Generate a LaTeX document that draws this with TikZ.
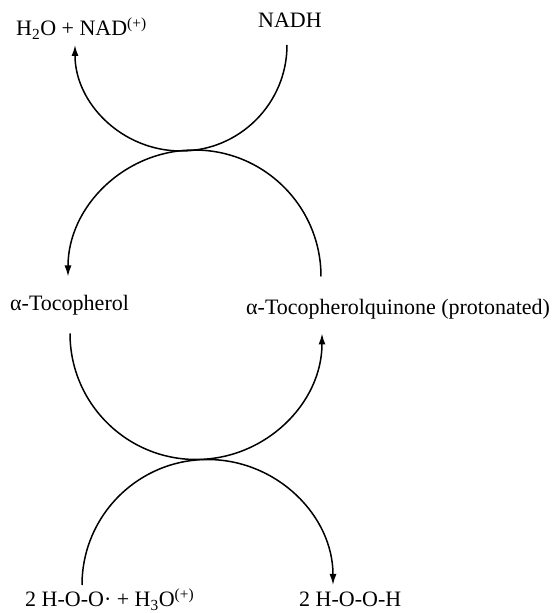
\documentclass[tikz,border=0pt]{standalone}
\usepackage{fontspec}
\setmainfont{Liberation Serif}
\usetikzlibrary{arrows.meta}
\begin{document}
\begin{tikzpicture}[x=1pt,y=1pt,
  lbl/.style={inner sep=0pt, anchor=base west, font=\fontsize{22}{26}\selectfont},
  cyc/.style={line width=1.5pt},
  cycarr/.style={cyc, -{Latex[length=11pt,width=7pt]}}]
\useasboundingbox (0,0) rectangle (554,613);
% labels
\node[lbl] (h2o)  at (16,577)  {H\textsubscript{2}O + NAD\textsuperscript{(+)}};
\node[lbl] (nadh) at (258,585) {NADH};
\node[lbl] (toc)  at (10,302)  {α-Tocopherol};
\node[lbl] (tq)   at (246,298) {α-Tocopherolquinone (protonated)};
\node[lbl] (hoo)  at (25,6)    {2 H-O-O· + H\textsubscript{3}O\textsuperscript{(+)}};
\node[lbl] (hooh) at (299,6)   {2 H-O-O-H};
% arc start points
\coordinate (s1) at (287,568);
\coordinate (s2) at (321,336.5);
\coordinate (s3) at (70,279.5);
\coordinate (s4) at (82,28);
% arcs
\draw[cycarr] (s1) arc[start angle=0,   end angle=-180, radius=106];
\draw[cycarr] (s2) arc[start angle=0,   end angle=180,  radius=126.5];
\draw[cycarr] (s3) arc[start angle=180, end angle=360,  radius=126];
\draw[cycarr] (s4) arc[start angle=180, end angle=0,    radius=125.5];
\end{tikzpicture}
\end{document}
